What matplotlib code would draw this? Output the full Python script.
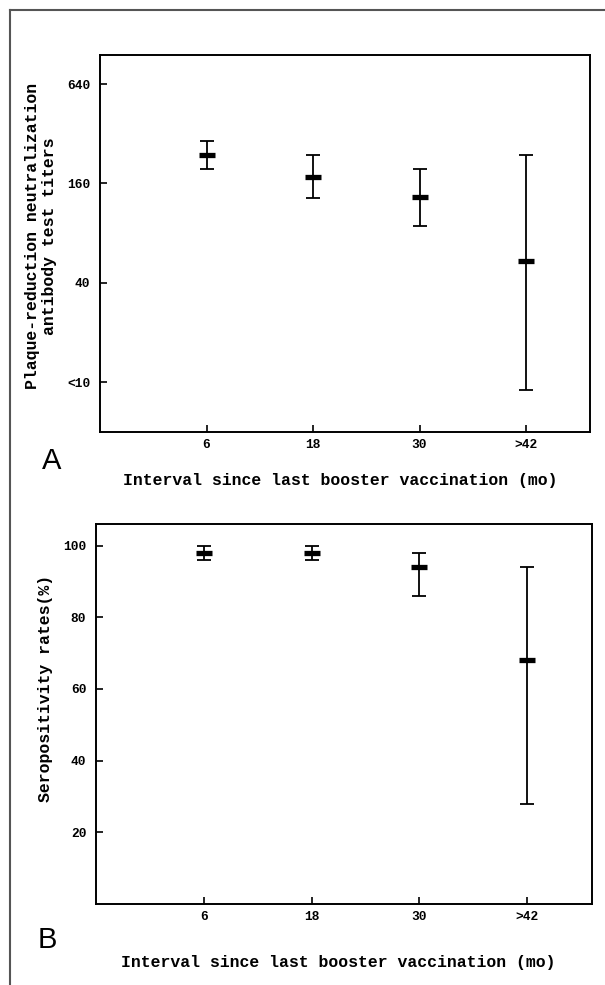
import matplotlib
matplotlib.use("Agg")
import matplotlib.pyplot as plt
from matplotlib.lines import Line2D
import numpy as np

# ---- data ----
intervals = ['6', '18', '30', '>42']
titer_gmt = [237, 176, 132, 54]
titer_low = [195, 131, 88, 9]
titer_high = [290, 238, 195, 238]
titer_ticks = [10, 40, 160, 640]
titer_ticklabels = ['<10', '40', '160', '640']

sero_rate = [98, 98, 94, 68]
sero_low = [96, 96, 86, 28]
sero_high = [100, 100, 98, 94]
sero_ticks = [20, 40, 60, 80, 100]

W, H = 605, 985
fig = plt.figure(figsize=(W / 100, H / 100), dpi=100)
MONO = ['Liberation Mono', 'DejaVu Sans Mono']
SANS = ['Liberation Sans', 'DejaVu Sans']
WT = 'bold'


def px_axes(l, t, r, b):
    return fig.add_axes([l / W, 1 - b / H, (r - l) / W, (b - t) / H])


def fx(x):
    return x / W


def fy(y):
    return 1 - y / H


# outer frame (left and top)
fig.add_artist(Line2D([fx(10), fx(10)], [fy(10), fy(985)], color='#555555', lw=1.5,
                      transform=fig.transFigure))
fig.add_artist(Line2D([fx(10), fx(605)], [fy(10), fy(10)], color='#555555', lw=1.5,
                      transform=fig.transFigure))

x = np.arange(1, len(intervals) + 1)


def style(ax, ylabels_pad):
    for s in ax.spines.values():
        s.set_linewidth(1.4)
    ax.set_xlim(0, 4.6)
    ax.set_xticks(x)
    ax.set_xticklabels(intervals)
    ax.tick_params(axis='both', direction='in', length=5, width=1.2, labelsize=9.3)
    ax.tick_params(axis='x', pad=5)
    ax.tick_params(axis='y', pad=ylabels_pad)
    for lab in ax.get_yticklabels() + ax.get_xticklabels():
        lab.set_fontfamily(MONO)
        lab.set_fontweight(WT)


def draw(ax, mid, low, high):
    mid = np.array(mid, float)
    yerr = [mid - np.array(low, float), np.array(high, float) - mid]
    ax.errorbar(x, mid, yerr=yerr, fmt='none', ecolor='black', elinewidth=1.3,
                capsize=5, capthick=1.3)
    ax.plot(x, mid, linestyle='none', marker='_', markersize=11, markeredgewidth=3.8,
            color='black')


# ---- panel A ----
axA = px_axes(100, 55, 590, 432)
axA.set_yscale('log', base=2)
axA.set_ylim(5, 960)
draw(axA, titer_gmt, titer_low, titer_high)
axA.set_yticks(titer_ticks)
axA.set_yticklabels(titer_ticklabels)
axA.minorticks_off()
style(axA, 7)

fig.text(fx(41), fy(236), 'Plaque-reduction neutralization\nantibody test titers',
         rotation=90, ha='center', va='center', multialignment='center',
         fontfamily=MONO, fontsize=11.9, linespacing=1.1, fontweight=WT)
fig.text(fx(340), fy(481), 'Interval since last booster vaccination (mo)',
         ha='center', va='center', fontfamily=MONO, fontsize=11.9, fontweight=WT)
fig.text(fx(52), fy(461), 'A', ha='center', va='center', fontfamily=SANS, fontsize=21)

# ---- panel B ----
axB = px_axes(96, 524, 592, 904)
axB.set_ylim(0, 106)
draw(axB, sero_rate, sero_low, sero_high)
axB.set_yticks(sero_ticks)
axB.set_yticklabels([str(v) for v in sero_ticks])
style(axB, 7)

fig.text(fx(46), fy(688), 'Seropositivity rates(%)', rotation=90, ha='center',
         va='center', fontfamily=MONO, fontsize=11.9, fontweight=WT)
fig.text(fx(338), fy(962), 'Interval since last booster vaccination (mo)',
         ha='center', va='center', fontfamily=MONO, fontsize=11.9, fontweight=WT)
fig.text(fx(47), fy(940), 'B', ha='center', va='center', fontfamily=SANS, fontsize=21)

fig.savefig('out.png', dpi=100)
